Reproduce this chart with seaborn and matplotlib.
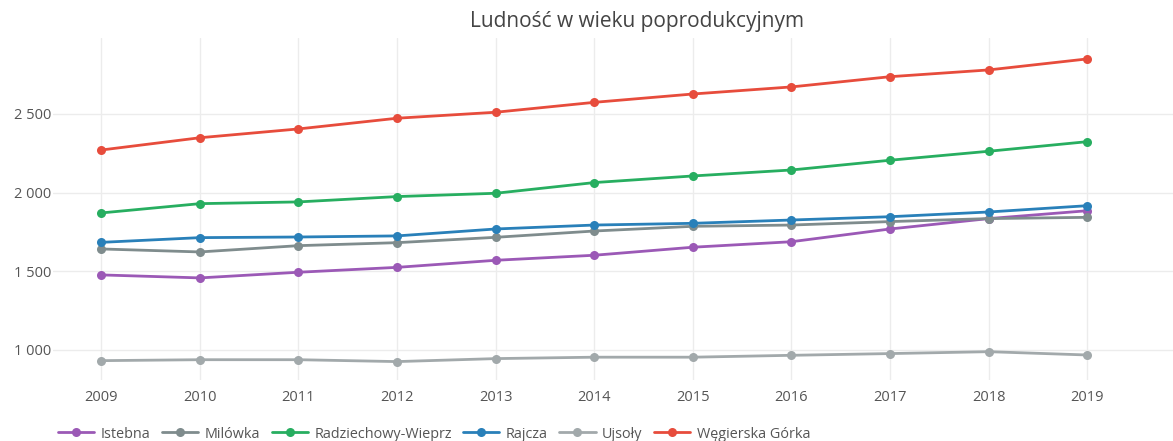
import matplotlib
matplotlib.use("Agg")
import matplotlib.pyplot as plt
import matplotlib.ticker as mticker
import seaborn as sns
import pandas as pd

years = [2009, 2010, 2011, 2012, 2013, 2014, 2015, 2016, 2017, 2018, 2019]

istebna = [1477, 1458, 1494, 1525, 1570, 1602, 1653, 1688, 1769, 1835, 1885]
milowka = [1642, 1623, 1663, 1682, 1716, 1756, 1786, 1794, 1816, 1835, 1843]
radziechowy = [1871, 1930, 1941, 1975, 1996, 2064, 2106, 2144, 2206, 2263, 2324]
rajcza = [1684, 1714, 1718, 1725, 1769, 1794, 1805, 1826, 1847, 1877, 1917]
ujsoly = [932, 938, 938, 926, 945, 954, 954, 966, 977, 989, 968]
wegierska = [2271, 2349, 2405, 2473, 2511, 2574, 2627, 2672, 2737, 2780, 2850]

names = ["Istebna", "Milówka", "Radziechowy-Wieprz", "Rajcza", "Ujsoły", "Węgierska Górka"]
series = [istebna, milowka, radziechowy, rajcza, ujsoly, wegierska]
colors = ["#9b59b6", "#7f8c8d", "#27ae60", "#2980b9", "#a2a9ab", "#e74c3c"]

title = "Ludność w wieku poprodukcyjnym"

frames = []
for name, vals in zip(names, series):
    frames.append(pd.DataFrame({"Rok": years, "Wartość": vals, "Gmina": name}))
df = pd.concat(frames, ignore_index=True)

sns.set_theme(style="white")
plt.rcParams["font.family"] = ["Open Sans", "DejaVu Sans"]

fig = plt.figure(figsize=(11.73, 4.41), dpi=100)
ax = fig.add_axes([53 / 1173, 1 - 380 / 441, 1 - 53 / 1173, 342 / 441])

sns.lineplot(
    data=df, x="Rok", y="Wartość", hue="Gmina", hue_order=names,
    palette=dict(zip(names, colors)), marker="o", markersize=6.5,
    markeredgewidth=0, linewidth=2, ax=ax, legend=True,
)

ax.set_xlim(2008.51, 2019.87)
ax.set_ylim(809, 2983)
ax.set_xticks(years)
ax.set_yticks([1000, 1500, 2000, 2500])
ax.yaxis.set_major_formatter(
    mticker.FuncFormatter(lambda v, p: f"{int(v):,}".replace(",", " "))
)
ax.grid(True, color="#ececec", linewidth=1)
ax.set_axisbelow(True)
for s in ax.spines.values():
    s.set_visible(False)
ax.tick_params(axis="both", length=0, labelsize=10.5, labelcolor="#555555")
ax.tick_params(axis="x", pad=7)
ax.tick_params(axis="y", pad=1)
ax.set_xlabel("")
ax.set_ylabel("")

fig.text(637 / 1173, 1 - 22 / 441, title, ha="center", va="center",
         fontsize=15, color="#444444")

handles, labels = ax.get_legend_handles_labels()
ax.legend_.remove()
fig.legend(handles, labels, loc="center left", bbox_to_anchor=(58 / 1173, 1 - 434 / 441),
           ncol=6, frameon=False, fontsize=10.4, handlelength=2.5, handletextpad=0.45,
           columnspacing=0.8, labelcolor="#555555", borderaxespad=0, borderpad=0)

fig.savefig("out.png", dpi=100)
